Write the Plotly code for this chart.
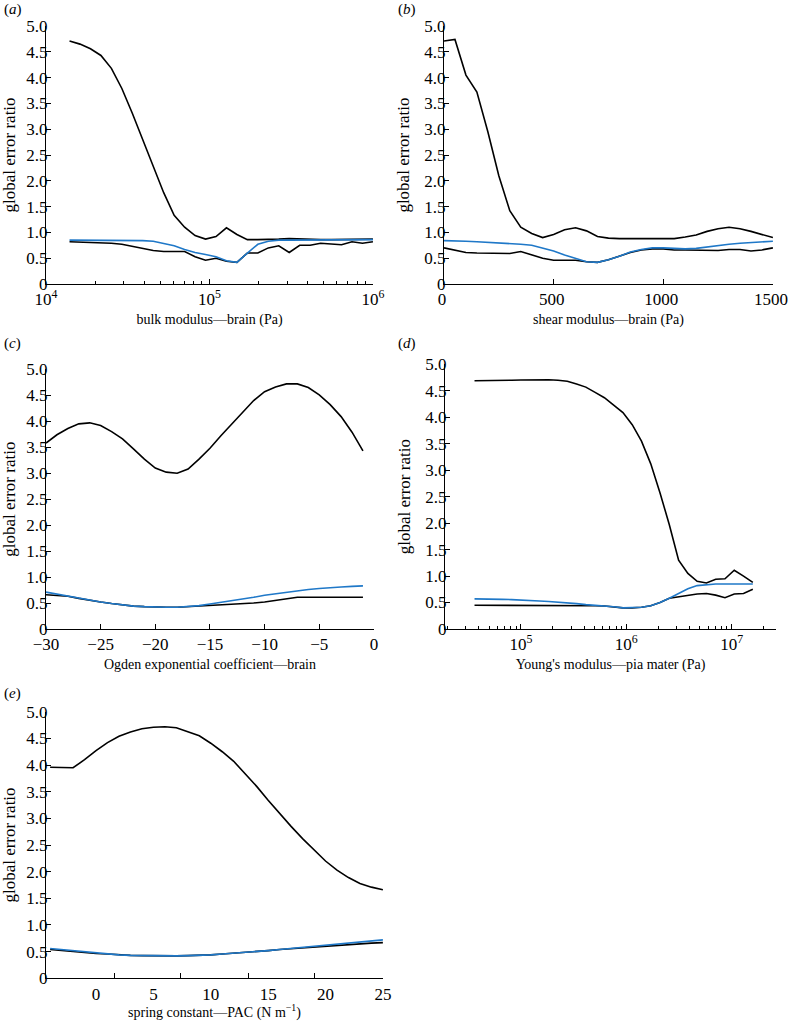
import plotly.graph_objects as go

# ---------------- data ----------------
# (a) bulk modulus - brain (Pa), log axis
a_x = [13930, 16140, 18710, 21680, 25120, 29110, 33730, 39080, 45290, 52480,
       60810, 70470, 81660, 94620, 109650, 127060, 147230, 170610, 197700, 229090,
       265460, 307610, 356450, 413050, 478630, 554620, 642690, 744730, 862980, 1000000]
a_top = [4.71, 4.65, 4.56, 4.43, 4.18, 3.79, 3.31, 2.79, 2.27, 1.77,
         1.33, 1.10, 0.94, 0.87, 0.92, 1.09, 0.96, 0.86, 0.86, 0.86,
         0.87, 0.88, 0.87, 0.86, 0.86, 0.86, 0.86, 0.86, 0.87, 0.87]
a_low = [0.82, 0.815, 0.81, 0.80, 0.79, 0.77, 0.73, 0.68, 0.65, 0.63,
         0.63, 0.63, 0.53, 0.46, 0.50, 0.44, 0.42, 0.60, 0.60, 0.70,
         0.74, 0.61, 0.75, 0.75, 0.79, 0.77, 0.76, 0.82, 0.79, 0.82]
a_blue = [0.85, 0.85, 0.85, 0.85, 0.85, 0.85, 0.85, 0.84, 0.83, 0.79,
          0.74, 0.67, 0.61, 0.57, 0.53, 0.45, 0.42, 0.60, 0.77, 0.83,
          0.85, 0.85, 0.85, 0.85, 0.85, 0.85, 0.85, 0.85, 0.86, 0.86]

# (b) shear modulus - brain (Pa)
b_x = [0, 50, 100, 150, 200, 250, 300, 350, 400, 450, 500, 550, 600, 650, 700, 750,
       800, 850, 900, 950, 1000, 1050, 1100, 1150, 1200, 1250, 1300, 1350, 1400, 1450, 1500]
b_top = [4.71, 4.74, 4.05, 3.72, 2.95, 2.10, 1.42, 1.10, 0.98, 0.90, 0.96, 1.05, 1.09, 1.03, 0.92, 0.89,
         0.88, 0.88, 0.875, 0.87, 0.87, 0.88, 0.91, 0.95, 1.02, 1.07, 1.10, 1.07, 1.02, 0.96, 0.90]
b_low = [0.70, 0.66, 0.61, 0.60, 0.595, 0.59, 0.59, 0.63, 0.57, 0.50, 0.46, 0.46, 0.46, 0.43, 0.42, 0.47,
         0.54, 0.61, 0.66, 0.68, 0.68, 0.66, 0.66, 0.66, 0.65, 0.65, 0.67, 0.67, 0.64, 0.66, 0.70]
b_blue = [0.84, 0.84, 0.83, 0.82, 0.81, 0.80, 0.79, 0.77, 0.75, 0.70, 0.64, 0.56, 0.49, 0.43, 0.42, 0.47,
          0.54, 0.62, 0.67, 0.70, 0.70, 0.69, 0.68, 0.69, 0.72, 0.75, 0.77, 0.79, 0.80, 0.82, 0.83]

# (c) Ogden exponential coefficient - brain
c_x = [-30, -29, -28, -27, -26, -25, -24, -23, -22, -21, -20, -19, -18, -17, -16,
       -15, -14, -13, -12, -11, -10, -9, -8, -7, -6, -5, -4, -3, -2, -1]
c_top = [3.58, 3.74, 3.86, 3.95, 3.97, 3.92, 3.80, 3.66, 3.47, 3.27, 3.10, 3.02, 3.00, 3.08, 3.27,
         3.48, 3.72, 3.95, 4.19, 4.40, 4.57, 4.66, 4.72, 4.72, 4.65, 4.51, 4.32, 4.09, 3.79, 3.43]
c_low = [0.66, 0.65, 0.63, 0.59, 0.55, 0.52, 0.49, 0.46, 0.44, 0.43, 0.42, 0.42, 0.42, 0.43, 0.45,
         0.46, 0.46, 0.47, 0.48, 0.50, 0.52, 0.55, 0.58, 0.61, 0.61, 0.61, 0.60, 0.60, 0.60, 0.61]
c_blue = [0.71, 0.67, 0.63, 0.59, 0.55, 0.52, 0.49, 0.46, 0.44, 0.43, 0.42, 0.42, 0.42, 0.43, 0.45,
          0.48, 0.51, 0.54, 0.58, 0.61, 0.65, 0.68, 0.71, 0.74, 0.76, 0.78, 0.80, 0.81, 0.82, 0.83]

# (d) Young's modulus - pia mater (Pa), log axis
d_x = [36310, 44460, 54450, 66680, 81660, 100000, 122460, 149970, 183650, 224910,
       275420, 337290, 413050, 505830, 619440, 758580, 928970, 1137630, 1393160, 1706080,
       2089300, 2558590, 3133290, 3837100, 4698940, 5754400, 7046930, 8629780, 10568170, 12941960,
       15848930]
d_top = [4.69, 4.69, 4.70, 4.70, 4.70, 4.705, 4.71, 4.71, 4.71, 4.70,
         4.68, 4.63, 4.57, 4.47, 4.37, 4.23, 4.09, 3.86, 3.55, 3.12,
         2.57, 1.97, 1.30, 1.05, 0.90, 0.87, 0.94, 0.95, 1.11, 1.00,
         0.88]
d_low = [0.45, 0.45, 0.45, 0.45, 0.45, 0.45, 0.45, 0.445, 0.445, 0.445,
         0.44, 0.44, 0.44, 0.44, 0.435, 0.42, 0.40, 0.40, 0.41, 0.44,
         0.50, 0.58, 0.61, 0.64, 0.66, 0.67, 0.64, 0.59, 0.66, 0.67,
         0.75]
d_blue = [0.57, 0.57, 0.565, 0.56, 0.555, 0.55, 0.54, 0.53, 0.52, 0.51,
          0.49, 0.48, 0.46, 0.45, 0.43, 0.42, 0.40, 0.40, 0.41, 0.44,
          0.50, 0.58, 0.67, 0.76, 0.82, 0.84, 0.85, 0.85, 0.85, 0.85,
          0.85]

# (e) spring constant - PAC (N m^-1)
e_x = [-4, -3, -2, -1, 0, 1, 2, 3, 4, 5, 6, 7, 8, 9, 10, 11, 12, 13, 14,
       15, 16, 17, 18, 19, 20, 21, 22, 23, 24, 25]
e_top = [3.96, 3.95, 3.95, 4.10, 4.27, 4.42, 4.54, 4.62, 4.68, 4.71, 4.72, 4.70, 4.63, 4.55, 4.41,
         4.25, 4.07, 3.84, 3.60, 3.34, 3.09, 2.85, 2.62, 2.40, 2.20, 2.03, 1.89, 1.78, 1.71, 1.66]
e_low = [0.54, 0.52, 0.50, 0.48, 0.465, 0.455, 0.44, 0.43, 0.425, 0.42, 0.42, 0.42, 0.425, 0.43, 0.44,
         0.455, 0.47, 0.48, 0.50, 0.52, 0.54, 0.555, 0.575, 0.59, 0.61, 0.62, 0.635, 0.645, 0.66, 0.67]
e_blue = [0.56, 0.54, 0.51, 0.49, 0.47, 0.455, 0.44, 0.43, 0.425, 0.42, 0.42, 0.42, 0.425, 0.43, 0.44,
          0.455, 0.47, 0.48, 0.50, 0.52, 0.54, 0.56, 0.58, 0.60, 0.62, 0.64, 0.66, 0.68, 0.70, 0.72]

y_ticks = [0, 0.5, 1.0, 1.5, 2.0, 2.5, 3.0, 3.5, 4.0, 4.5, 5.0]
y_ticktext = ["0", "0.5", "1.0", "1.5", "2.0", "2.5", "3.0", "3.5", "4.0", "4.5", "5.0"]

panel_letters = ["a", "b", "c", "d", "e"]
x_titles = ["bulk modulus\u2014brain (Pa)", "shear modulus\u2014brain (Pa)",
            "Ogden exponential coefficient\u2014brain", "Young's modulus\u2014pia mater (Pa)",
            "spring constant\u2014PAC (N m<sup>\u22121</sup>)"]
y_title = "global error ratio"

# ---------------- figure ----------------
W, H = 788, 1021
BLACK = "#000000"
BLUE = "#1f78c8"
FONT = "Liberation Serif"


def px(xp):
    return xp / W


def py(yp):
    return 1 - yp / H


# pixel boxes: (left, right, top, bottom)
boxes = [(46, 373, 26, 284), (444, 773, 26, 284), (46, 374, 369.3, 629),
         (445, 776, 364.3, 629), (46, 383, 711.7, 978.3)]
letter_pos = [(2, 10), (396, 10), (2, 343), (396, 343), (2, 693)]

series = [(a_x, a_top, a_low, a_blue), (b_x, b_top, b_low, b_blue), (c_x, c_top, c_low, c_blue),
          (d_x, d_top, d_low, d_blue), (e_x, e_top, e_low, e_blue)]

fig = go.Figure()

for i, (xs, top, low, blue) in enumerate(series):
    suf = "" if i == 0 else str(i + 1)
    for ys, col in ((top, BLACK), (low, BLACK), (blue, BLUE)):
        fig.add_trace(go.Scatter(x=xs, y=ys, mode="lines", line=dict(color=col, width=1.6),
                                 xaxis="x" + suf, yaxis="y" + suf, showlegend=False,
                                 hoverinfo="skip"))

base = dict(showline=True, linecolor=BLACK, linewidth=1, ticks="inside", ticklen=5,
            tickcolor=BLACK, tickwidth=1, showgrid=False, zeroline=False,
            ticklabeloverflow="allow",
            tickfont=dict(family=FONT, size=17, color=BLACK))

log_minor_a = [m * 10 ** e for e in (4, 5) for m in range(2, 10)]
log_minor_d = [m * 10 ** e for e in (4, 5, 6, 7) for m in range(2, 10)
               if 1.9e4 < m * 10 ** e < 2.6e7]

xcfg = [
    dict(type="log", range=[4, 6.0005], tickvals=[1e4, 1e5, 1e6],
         ticktext=["10<sup>4</sup>", "10<sup>5</sup>", "10<sup>6</sup>"],
         minor=dict(tickvals=log_minor_a, ticks="inside", ticklen=3, tickcolor=BLACK, showgrid=False)),
    dict(range=[0, 1500.5], tickvals=[0, 500, 1000, 1500], ticklabelshift=-2),
    dict(range=[-30, 0.01], tickvals=[-30, -25, -20, -15, -10, -5, 0]),
    dict(type="log", range=[4.28, 7.42], tickvals=[1e5, 1e6, 1e7],
         ticktext=["10<sup>5</sup>", "10<sup>6</sup>", "10<sup>7</sup>"],
         minor=dict(tickvals=log_minor_d, ticks="inside", ticklen=3, tickcolor=BLACK, showgrid=False)),
    dict(range=[-4.36, 25.01], tickvals=[0, 5, 10, 15, 20, 25], ticklen=0,
         minor=dict(tickvals=[1.57, 7.4, 13.27, 19.08, 24.97], ticks="inside", ticklen=5,
                    tickcolor=BLACK, showgrid=False)),
]

layout = dict(width=W, height=H, margin=dict(l=0, r=0, t=0, b=0),
              paper_bgcolor="white", plot_bgcolor="white", template="none",
              font=dict(family=FONT, color=BLACK))

annotations = []
for i in range(5):
    suf = "" if i == 0 else str(i + 1)
    l, r, t, b = boxes[i]
    xa = dict(base)
    xa.update(xcfg[i])
    xa.update(domain=[px(l), px(r)], anchor="y" + suf,
              title=dict(text=x_titles[i], font=dict(family=FONT, size=14, color=BLACK), standoff=5))
    ya = dict(base)
    ya.update(range=[0, 5.001], tickvals=y_ticks, ticktext=y_ticktext,
              domain=[py(b), py(t)], anchor="x" + suf, ticklabelstandoff=-6,
              title=dict(text=y_title, font=dict(family=FONT, size=17, color=BLACK), standoff=10))
    layout["xaxis" + suf] = xa
    layout["yaxis" + suf] = ya
    lx, ly = letter_pos[i]
    annotations.append(dict(text="(<i>%s</i>)" % panel_letters[i], x=px(lx), y=py(ly),
                            xref="paper", yref="paper", xanchor="left", yanchor="middle",
                            showarrow=False, font=dict(family=FONT, size=15, color=BLACK)))

layout["annotations"] = annotations
fig.update_layout(**layout)
fig.write_html("out.html", config={"displayModeBar": False, "staticPlot": True},
               post_script="document.body.style.margin='0';document.body.style.padding='0';"
                           "document.body.style.overflow='hidden';")
